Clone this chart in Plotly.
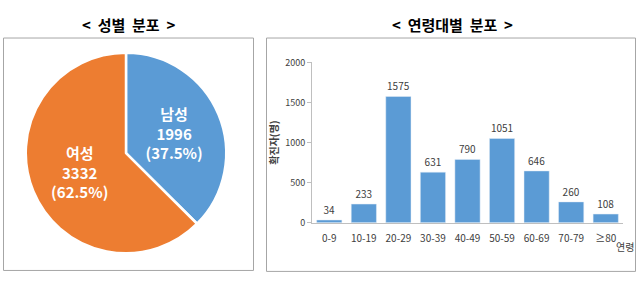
import plotly.graph_objects as go

# ---- data ----
gender_labels = ["남성", "여성"]
gender_values = [1996, 3332]
gender_colors = ["#5B9BD5", "#ED7D31"]

age_groups = ["0-9", "10-19", "20-29", "30-39", "40-49", "50-59", "60-69", "70-79", "≥80"]
age_values = [34, 233, 1575, 631, 790, 1051, 646, 260, 108]

W, H = 640, 286
FONT = "Noto Sans CJK KR"

def px(x):
    return x / W

def py(y):
    return 1 - y / H

fig = go.Figure()

fig.add_trace(go.Pie(
    labels=gender_labels,
    values=gender_values,
    sort=False,
    direction="clockwise",
    rotation=0,
    marker=dict(colors=gender_colors, line=dict(color="white", width=2.5)),
    texttemplate="<b>%{label}</b><br><b>%{value}</b><br><b>(%{percent:.1%})</b>",
    textposition="inside",
    insidetextorientation="horizontal",
    textfont=dict(family=FONT, size=15, color="white"),
    domain=dict(x=[px(21), px(231)], y=[py(258), py(48)]),
    showlegend=False,
    hoverinfo="label+value+percent",
))

fig.add_trace(go.Bar(
    x=age_groups,
    y=age_values,
    marker=dict(color="#5B9BD5"),
    text=[str(v) for v in age_values],
    textposition="outside",
    textfont=dict(family=FONT, size=10, color="#404040"),
    cliponaxis=False,
    xaxis="x",
    yaxis="y",
    showlegend=False,
))

fig.update_layout(
    width=W, height=H,
    margin=dict(l=0, r=0, t=0, b=0),
    paper_bgcolor="white",
    plot_bgcolor="white",
    bargap=0.27,
    xaxis=dict(
        domain=[px(312), px(623)],
        anchor="y",
        showline=True, linecolor="#BFBFBF", linewidth=1,
        ticks="", showgrid=False, zeroline=False,
        ticklabelstandoff=6,
        tickfont=dict(family=FONT, size=10, color="#404040"),
        fixedrange=True,
    ),
    yaxis=dict(
        domain=[py(226), py(58)],
        anchor="x",
        range=[0, 2000], dtick=500,
        showline=True, linecolor="#BFBFBF", linewidth=1,
        ticks="outside", ticklen=4, tickcolor="#BFBFBF",
        showgrid=False, zeroline=False,
        tickfont=dict(family=FONT, size=9, color="#404040"),
        title=dict(text="<b>확진자(명)</b>", font=dict(family=FONT, size=10, color="#404040"), standoff=4),
        fixedrange=True,
    ),
    shapes=[
        dict(type="rect", xref="paper", yref="paper",
             x0=px(3.5), x1=px(253.5), y0=py(276), y1=py(32.5),
             line=dict(color="#A6A6A6", width=1), fillcolor="rgba(0,0,0,0)", layer="below"),
        dict(type="rect", xref="paper", yref="paper",
             x0=px(266.5), x1=px(635.5), y0=py(277), y1=py(32.5),
             line=dict(color="#A6A6A6", width=1), fillcolor="rgba(0,0,0,0)", layer="below"),
    ],
    annotations=[
        dict(text="<b>&lt;  성별  분포  &gt;</b>", xref="paper", yref="paper",
             x=px(128), y=py(18), showarrow=False, xanchor="center", yanchor="middle",
             font=dict(family=FONT, size=15, color="#000000")),
        dict(text="<b>&lt;  연령대별  분포  &gt;</b>", xref="paper", yref="paper",
             x=px(452), y=py(18), showarrow=False, xanchor="center", yanchor="middle",
             font=dict(family=FONT, size=15, color="#000000")),
        dict(text="연령", xref="paper", yref="paper",
             x=px(625), y=py(251), showarrow=False, xanchor="center", yanchor="middle",
             font=dict(family=FONT, size=10, color="#404040")),
    ],
)

fig.write_html("out.html")
